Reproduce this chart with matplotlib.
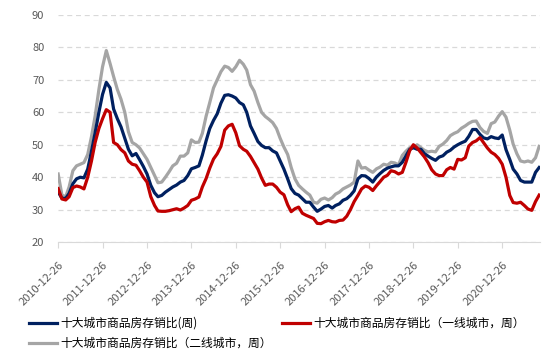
import matplotlib.pyplot as plt
import matplotlib.dates as mdates
import matplotlib.transforms as mtransforms
import pandas as pd

plt.rcParams['font.family'] = ['Noto Sans CJK SC', 'DejaVu Sans']

# monthly readings, starting 2010-12-26
all_cities = [
    35.5, 33.5, 33.5, 35.0, 38.0, 39.5, 40.0, 39.8, 42.5, 48.0,
    53.7, 60.0, 65.5, 69.2, 67.5, 61.0, 58.0, 55.5, 52.0, 48.6,
    46.6, 47.3, 45.4, 43.3, 41.0, 37.5, 35.2, 34.0, 34.4, 35.4,
    36.2, 37.0, 37.6, 38.5, 39.0, 40.5, 42.6, 43.0, 43.5, 46.8,
    51.2, 55.0, 57.5, 59.5, 62.8, 65.2, 65.4, 65.0, 64.4, 63.0,
    62.3, 60.0, 55.8, 53.5, 51.0, 49.8, 49.1, 49.1, 48.1, 47.5,
    45.0, 42.5, 39.5, 36.5, 35.0, 34.5, 33.4, 32.3, 32.3, 30.8,
    29.5, 30.2, 31.0, 31.3, 30.5, 31.3, 31.8, 32.9, 33.4, 34.4,
    35.8, 39.5, 40.5, 40.4, 39.6, 38.5, 40.1, 41.1, 42.1, 42.8,
    43.2, 43.5, 43.5, 44.6, 46.6, 48.6, 49.1, 48.6, 48.6, 47.3,
    46.5, 45.8, 45.2, 46.2, 46.6, 47.7, 48.3, 49.3, 50.0, 50.6,
    51.1, 52.6, 54.7, 54.7, 53.2, 52.1, 51.8, 52.5, 52.1, 51.9,
    53.0, 48.5, 45.5, 42.5, 41.0, 39.0, 38.5, 38.5, 38.5, 41.5,
    43.0,
]
tier1 = [
    36.5, 33.3, 33.0, 34.0, 36.8, 37.3, 37.0, 36.4, 40.0, 45.0,
    50.7, 55.0, 58.0, 60.8, 60.0, 50.7, 50.0, 48.5, 47.5, 45.0,
    44.0, 43.7, 42.0, 40.0, 38.5, 34.0, 31.3, 29.6, 29.5, 29.5,
    29.7, 30.0, 30.3, 29.9, 30.5, 31.3, 32.9, 33.3, 33.9, 37.0,
    39.6, 42.8, 45.6, 47.2, 49.5, 54.5, 55.8, 56.3, 53.7, 49.7,
    48.6, 48.0, 46.4, 44.5, 42.5, 39.8, 37.5, 37.9, 37.9, 36.9,
    35.4, 34.6, 31.5, 29.4, 30.3, 30.8, 28.9, 28.3, 27.8, 27.3,
    25.8, 25.7, 26.3, 26.7, 26.3, 26.2, 26.7, 26.8, 28.0, 30.0,
    32.5, 34.4, 36.4, 37.3, 36.9, 35.9, 37.4, 38.6, 40.0, 40.6,
    42.0, 41.7, 41.0, 41.5, 44.6, 48.2, 50.0, 49.0, 47.6, 46.3,
    44.5, 42.3, 41.0, 40.5, 40.5, 42.3, 43.0, 42.5, 45.5, 45.3,
    46.0, 49.6, 50.7, 51.2, 52.2, 50.6, 49.0, 47.7, 47.0, 45.8,
    44.0, 40.0, 34.4, 32.2, 32.0, 32.3, 31.3, 30.2, 29.8, 32.5,
    34.5,
]
tier2 = [
    41.0, 34.5, 34.0, 37.0, 42.0, 43.5, 44.0, 44.5, 47.0, 52.5,
    58.8, 67.0, 74.0, 79.0, 75.0, 71.0, 67.0, 64.0, 60.0, 54.0,
    50.7, 50.0, 49.0, 47.2, 45.5, 43.0, 40.5, 38.3, 38.5, 40.0,
    41.7, 43.5, 44.3, 46.5, 46.5, 47.5, 51.5, 50.7, 50.8, 53.5,
    58.8, 63.0, 67.5, 70.0, 72.5, 74.2, 73.8, 72.6, 74.0, 76.0,
    74.8, 73.0, 68.5, 66.5, 63.0, 60.0, 58.7, 57.8, 56.8, 55.0,
    52.0, 49.3, 47.0, 43.0, 39.5, 37.5, 36.4, 35.4, 34.5, 32.3,
    32.0, 33.2, 33.6, 33.0, 33.7, 34.8, 35.4, 36.4, 37.0, 37.6,
    38.5, 45.0, 42.8, 43.0, 42.2, 41.5, 42.6, 43.1, 44.0, 43.7,
    44.6, 44.4, 43.8, 46.7, 48.0, 49.1, 49.1, 50.0, 49.1, 48.3,
    47.8, 48.0, 47.8, 49.5, 50.2, 51.3, 52.8, 53.5, 54.0, 55.1,
    55.8, 56.6, 57.2, 57.3, 55.3, 54.1, 53.5, 56.5, 57.0, 58.8,
    60.2, 58.5, 54.5, 50.2, 47.2, 45.0, 44.7, 45.0, 44.6, 46.0,
    49.5,
]
labels = ['十大城市商品房存销比(周)',
          '十大城市商品房存销比（一线城市，周）',
          '十大城市商品房存销比（二线城市，周）']

start = pd.Timestamp('2010-12-26')
dates = [start + pd.DateOffset(months=m) for m in range(len(all_cities))]
tick_dates = [start + pd.DateOffset(years=y) for y in range(11)]

fig = plt.figure(figsize=(5.54, 3.62), dpi=100)
ax = fig.add_axes([0.105, 0.331, 0.87, 0.628])

l3, = ax.plot(dates, tier2, color='#A5A5A5', lw=2.3, label=labels[2])
l1, = ax.plot(dates, all_cities, color='#002060', lw=2.3, label=labels[0])
l2, = ax.plot(dates, tier1, color='#C00000', lw=2.3, label=labels[1])

ax.set_ylim(20, 90)
ax.set_yticks(range(20, 91, 10))
ax.set_xlim(start, dates[-1] + pd.Timedelta(days=8))
ax.set_xticks(tick_dates)
ax.xaxis.set_major_formatter(mdates.DateFormatter('%Y-%m-%d'))
shift = mtransforms.ScaledTranslation(4 / 72, 0, fig.dpi_scale_trans)
for lab in ax.get_xticklabels():
    lab.set_rotation(45)
    lab.set_ha('right')
    lab.set_rotation_mode('anchor')
    lab.set_transform(lab.get_transform() + shift)

ax.grid(axis='y', color='#D9D9D9', ls=(0, (4, 3)), lw=0.9)
ax.set_axisbelow(True)
for s in ['top', 'right', 'left']:
    ax.spines[s].set_visible(False)
ax.spines['bottom'].set_color('#D9D9D9')
ax.tick_params(axis='y', length=0, labelsize=8, labelcolor='#595959', pad=10)
ax.tick_params(axis='x', length=4, color='#D9D9D9', labelsize=8,
               labelcolor='#595959', pad=9)

fig.legend([l1, l3, l2], [labels[0], labels[2], labels[1]], ncol=2,
           loc='upper left', bbox_to_anchor=(0.052, 0.125), frameon=False,
           fontsize=8.5, handlelength=2.4, handletextpad=0.25,
           columnspacing=0.85, labelspacing=0.6, borderaxespad=0, borderpad=0)

fig.savefig('out.png', dpi=100)
